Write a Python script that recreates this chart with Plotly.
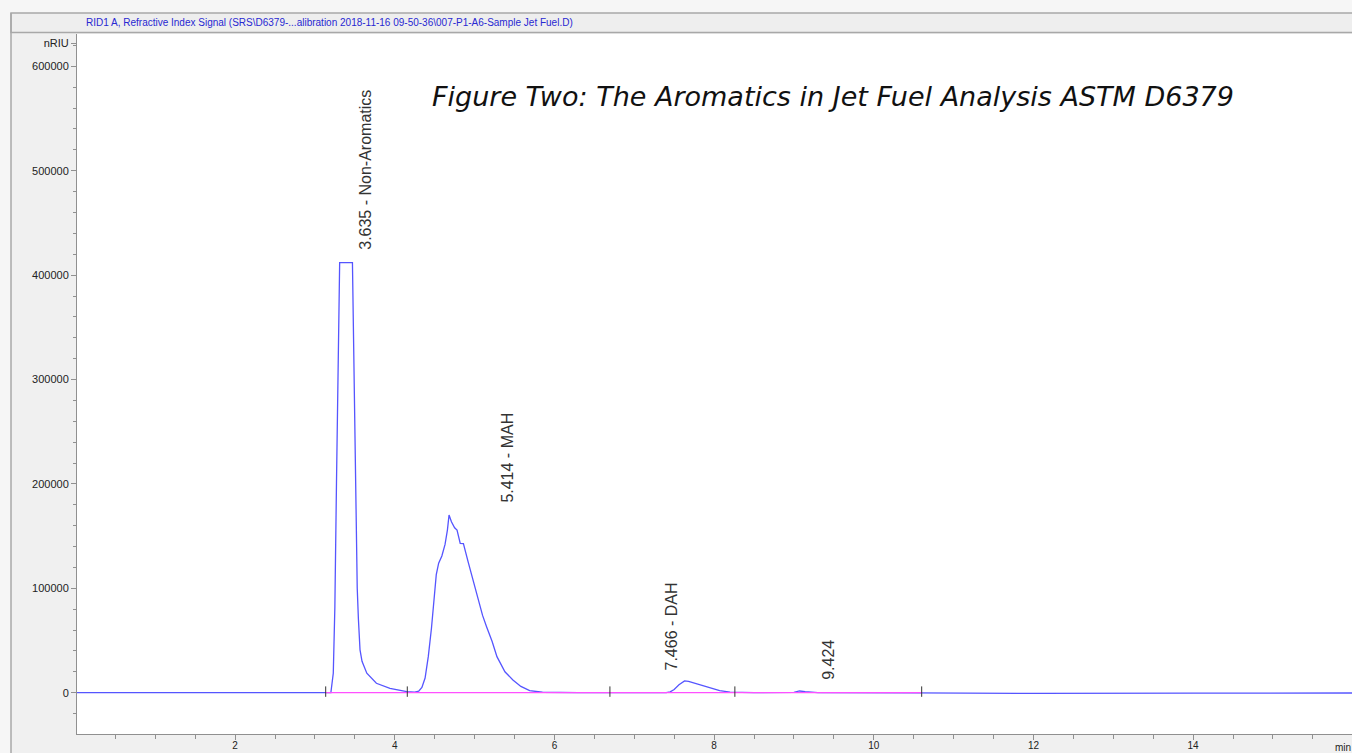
import plotly.graph_objects as go

# ---------------- data ----------------
time_min = [0.02, 1.0, 2.0, 2.9, 3.1, 3.20, 3.23, 3.25, 3.27, 3.29, 3.31, 3.47, 3.48, 3.49, 3.51, 3.53,
            3.545, 3.565, 3.59, 3.65, 3.77, 3.94, 4.15, 4.25, 4.30, 4.34, 4.38, 4.42, 4.46, 4.49,
            4.52, 4.55, 4.59, 4.63, 4.66, 4.68, 4.71, 4.75, 4.78, 4.82, 4.86, 4.92, 4.98, 5.04,
            5.10, 5.15, 5.22, 5.28, 5.38, 5.48, 5.58, 5.69, 5.85, 6.3, 7.0, 7.40, 7.45, 7.50,
            7.56, 7.63, 7.68, 7.74, 7.82, 7.91, 8.07, 8.20, 8.5, 9.0, 9.07, 9.14, 9.3, 10.5,
            12.0, 14.0, 16.0]
signal_nriu = [0, 0, 0, -300, -400, 0, 18600, 82400, 200000, 330000, 412000, 412000, 360000, 300000,
               180000, 100000, 70000, 41000, 30000, 18600, 9000, 4200, 1000, 500, 1500, 5000, 14000,
               34500, 62000, 92000, 113000, 124000, 131000, 142000, 156000, 170200, 163800, 158000,
               155800, 143100, 142900, 125000, 108000, 90000, 74000, 63200, 49000, 34500, 20000,
               12200, 6000, 2000, 400, 0, -300, 0, 800, 3000, 7500, 11200, 10900, 9600, 7600, 5700,
               1900, 600, 0, 300, 1600, 900, 0, -200, -700, -400, -300]

peak_rt = [3.635, 5.414, 7.466, 9.424]
peak_names = ["Non-Aromatics", "MAH", "DAH", ""]
label_y = [422000, 179800, 19800, 10200]

baseline_t = [3.135, 10.60]
baseline_y = [0, 0]
baseline_marks = [3.135, 4.157, 6.695, 8.26, 10.60]

y_tick_vals = [0, 100000, 200000, 300000, 400000, 500000, 600000, 622000]
y_tick_text = ["0", "100000", "200000", "300000", "400000", "500000", "600000", "nRIU"]
x_tick_vals = [2, 4, 6, 8, 10, 12, 14]
x_tick_text = ["2", "4", "6", "8", "10", "12", "14"]

header_text = ("RID1 A, Refractive Index Signal (SRS\\D6379-...alibration 2018-11-16 09-50-36"
               "\\007-P1-A6-Sample Jet Fuel.D)")
figure_title = "Figure Two: The Aromatics in Jet Fuel Analysis ASTM D6379"

# ---------------- figure ----------------
W, H = 1352, 753
ML, MR, MT, MB = 77, 0, 34, 19
PW, PH = W - ML - MR, H - MT - MB


def px(xp):
    return (xp - ML) / PW


def py(yp):
    return (H - MB - yp) / PH


fig = go.Figure()

fig.add_trace(go.Scatter(x=time_min, y=signal_nriu, mode="lines",
                         line=dict(color="rgb(85,85,255)", width=1.3),
                         hoverinfo="skip", showlegend=False))
fig.add_trace(go.Scatter(x=baseline_t, y=baseline_y, mode="lines",
                         line=dict(color="rgb(255,80,255)", width=1.3),
                         hoverinfo="skip", showlegend=False))

mx, my = [], []
for m in baseline_marks:
    mx += [m, m, None]
    my += [-4000, 6000, None]
fig.add_trace(go.Scatter(x=mx, y=my, mode="lines",
                         line=dict(color="#333333", width=1),
                         hoverinfo="skip", showlegend=False))

annotations = []
for rt, name, ly in zip(peak_rt, peak_names, label_y):
    txt = f"{rt:.3f}" + (f" - {name}" if name else "")
    annotations.append(dict(x=rt, y=ly, xref="x", yref="y", text=txt, showarrow=False,
                            textangle=-90, xanchor="center", yanchor="bottom",
                            font=dict(family="Liberation Sans, Arial", size=16, color="#333333")))

annotations.append(dict(x=px(430), y=py(97), xref="paper", yref="paper", text=figure_title,
                        showarrow=False, xanchor="left", yanchor="middle",
                        font=dict(family="DejaVu Sans", size=27, color="#111111", style="italic")))
annotations.append(dict(x=px(84), y=py(22.5), xref="paper", yref="paper", text=header_text,
                        showarrow=False, xanchor="left", yanchor="middle",
                        font=dict(family="Liberation Sans, Arial", size=10, color="rgb(40,40,210)")))
annotations.append(dict(x=px(1333), y=py(747), xref="paper", yref="paper", text="min",
                        showarrow=False, xanchor="left", yanchor="middle",
                        font=dict(family="Liberation Sans, Arial", size=10, color="#222222")))

shapes = [
    dict(type="rect", xref="paper", yref="paper", x0=px(0), x1=px(11), y0=py(H), y1=py(0),
         fillcolor="#f6f6f6", line=dict(width=0), layer="below"),
    dict(type="rect", xref="paper", yref="paper", x0=px(0), x1=px(W), y0=py(13), y1=py(0),
         fillcolor="#f6f6f6", line=dict(width=0), layer="below"),
    dict(type="rect", xref="paper", yref="paper", x0=px(11), x1=px(W + 5), y0=py(32.5), y1=py(13),
         fillcolor="#eeeeee", line=dict(color="#a8a8a8", width=1.5)),
    dict(type="line", xref="paper", yref="paper", x0=px(11), x1=px(11), y0=py(H), y1=py(13),
         line=dict(color="#a8a8a8", width=1.5)),
]

fig.update_layout(
    width=W, height=H,
    margin=dict(l=ML, r=MR, t=MT, b=MB, pad=0, autoexpand=False),
    paper_bgcolor="#f0f0f0", plot_bgcolor="white",
    showlegend=False,
    annotations=annotations,
    shapes=shapes,
    font=dict(family="Liberation Sans, Arial", size=11, color="#222222"),
)
fig.update_xaxes(range=[0.02, 15.99], showgrid=False, zeroline=False, automargin=False,
                 showline=True, linecolor="#909090", linewidth=1,
                 ticks="outside", ticklen=5, tickcolor="#909090",
                 tickvals=x_tick_vals, ticktext=x_tick_text,
                 tickfont=dict(size=10, color="#222222"), ticklabelstandoff=-3,
                 minor=dict(dtick=0.5, tick0=0, ticks="outside", ticklen=4, tickcolor="#909090"))
fig.update_yaxes(range=[-39600, 631000], showgrid=False, zeroline=False, automargin=False,
                 showline=True, linecolor="#909090", linewidth=1,
                 ticks="outside", ticklen=5, tickcolor="#909090",
                 tickvals=y_tick_vals, ticktext=y_tick_text,
                 tickfont=dict(size=11, color="#222222"),
                 minor=dict(dtick=20000, tick0=0, ticks="outside", ticklen=3, tickcolor="#909090"))

fig.write_html("out.html", config={"displayModeBar": False},
               post_script="document.body.style.margin='0';document.body.style.overflow='hidden';")
